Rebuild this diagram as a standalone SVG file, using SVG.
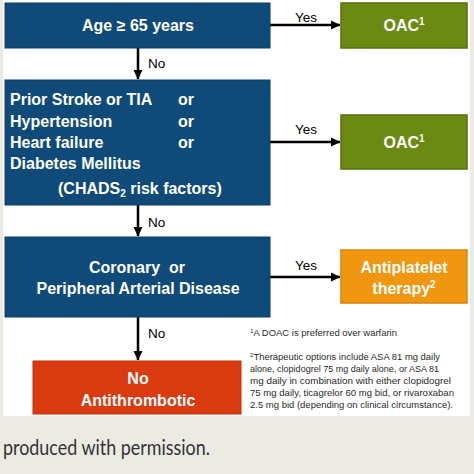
<svg xmlns="http://www.w3.org/2000/svg" width="474" height="474" viewBox="0 0 474 474">
<defs>
<style>
.bg{fill:#ecebe3}
.panel{fill:#ffffff}
.blue{fill:#0f4a78;stroke:#0b3d66;stroke-width:1}
.green{fill:#6a8a12;stroke:#56720c;stroke-width:1.5}
.orange{fill:#f0960f;stroke:#d98208;stroke-width:1.5}
.red{fill:#d93a0f;stroke:#c23008;stroke-width:1}
.bt{font-family:"Liberation Sans",Arial,sans-serif;font-weight:bold;font-size:16px;fill:#ffffff}
.lab{font-family:"Liberation Sans",Arial,sans-serif;font-size:13.5px;fill:#000000}
.fn{font-family:"Liberation Sans",Arial,sans-serif;font-size:9.2px;fill:#2a2a2a}
.cap{font-family:Lato,"Open Sans",sans-serif;font-size:21px;fill:#333333}
.conn{stroke:#000000;stroke-width:2.5;fill:none}
</style>
<marker id="ah" markerWidth="10" markerHeight="10" refX="9" refY="5" orient="auto" markerUnits="userSpaceOnUse">
<path d="M0,0.5 L9.5,5 L0,9.5 Z" fill="#000000"/>
</marker>
</defs>
<rect class="bg" x="0" y="0" width="474" height="474"/>
<rect class="panel" x="3" y="0" width="467" height="416"/>

<g id="connectors">
<line class="conn" x1="270" y1="25" x2="340" y2="25" marker-end="url(#ah)"/>
<line class="conn" x1="138" y1="48" x2="138" y2="79" marker-end="url(#ah)"/>
<line class="conn" x1="270" y1="142" x2="340" y2="142" marker-end="url(#ah)"/>
<line class="conn" x1="138" y1="205" x2="138" y2="236" marker-end="url(#ah)"/>
<line class="conn" x1="270" y1="277" x2="340" y2="277" marker-end="url(#ah)"/>
<line class="conn" x1="138" y1="317" x2="138" y2="360" marker-end="url(#ah)"/>
<text class="lab" x="306" y="22" text-anchor="middle">Yes</text>
<text class="lab" x="148" y="68">No</text>
<text class="lab" x="306" y="134" text-anchor="middle">Yes</text>
<text class="lab" x="148" y="227">No</text>
<text class="lab" x="306" y="270" text-anchor="middle">Yes</text>
<text class="lab" x="148" y="338">No</text>
</g>

<g id="age">
<rect class="blue" x="5" y="3" width="265" height="45"/>
<text class="bt" x="138" y="31" text-anchor="middle">Age ≥ 65 years</text>
</g>

<g id="oac1">
<rect class="green" x="341" y="3" width="126" height="45"/>
<text class="bt" x="404" y="31" text-anchor="middle">OAC<tspan font-size="10" dy="-6">1</tspan></text>
</g>

<g id="chads">
<rect class="blue" x="5" y="80" width="265" height="125"/>
<text class="bt" x="10" y="105">Prior Stroke or TIA</text>
<text class="bt" x="178" y="105">or</text>
<text class="bt" x="10" y="127">Hypertension</text>
<text class="bt" x="178" y="127">or</text>
<text class="bt" x="10" y="148">Heart failure</text>
<text class="bt" x="178" y="148">or</text>
<text class="bt" x="10" y="169">Diabetes Mellitus</text>
<text class="bt" x="58" y="194">(CHADS<tspan font-size="10" dy="3">2</tspan><tspan dy="-3"> risk factors)</tspan></text>
</g>

<g id="oac2">
<rect class="green" x="341" y="115" width="126" height="54"/>
<text class="bt" x="404" y="148" text-anchor="middle">OAC<tspan font-size="10" dy="-6">1</tspan></text>
</g>

<g id="cad">
<rect class="blue" x="5" y="237" width="265" height="80"/>
<text class="bt" x="137" y="273" text-anchor="middle">Coronary&#160; or</text>
<text class="bt" x="138" y="294" text-anchor="middle">Peripheral Arterial Disease</text>
</g>

<g id="antiplatelet">
<rect class="orange" x="341" y="250" width="126" height="53"/>
<text class="bt" x="404" y="273" text-anchor="middle">Antiplatelet</text>
<text class="bt" x="404" y="294" text-anchor="middle">therapy<tspan font-size="10" dy="-6">2</tspan></text>
</g>

<g id="none">
<rect class="red" x="33" y="361" width="208" height="53"/>
<text class="bt" x="138" y="384" text-anchor="middle">No</text>
<text class="bt" x="138" y="406" text-anchor="middle">Antithrombotic</text>
</g>

<g id="footnotes">
<text class="fn" x="250" y="336" textLength="147" lengthAdjust="spacingAndGlyphs"><tspan font-size="6" dy="-3">1</tspan><tspan dy="3">A DOAC is preferred over warfarin</tspan></text>
<text class="fn" x="250" y="360" textLength="190" lengthAdjust="spacingAndGlyphs"><tspan font-size="6" dy="-3">2</tspan><tspan dy="3">Therapeutic options include ASA 81 mg daily</tspan></text>
<text class="fn" x="250" y="372" textLength="189" lengthAdjust="spacingAndGlyphs">alone, clopidogrel 75 mg daily alone, or ASA 81</text>
<text class="fn" x="250" y="384" textLength="201" lengthAdjust="spacingAndGlyphs">mg daily in combination with either clopidogrel</text>
<text class="fn" x="250" y="396" textLength="204" lengthAdjust="spacingAndGlyphs">75 mg daily, ticagrelor 60 mg bid, or rivaroxaban</text>
<text class="fn" x="250" y="408" textLength="203" lengthAdjust="spacingAndGlyphs">2.5 mg bid (depending on clinical circumstance).</text>
</g>

<text class="cap" x="3" y="455" textLength="207" lengthAdjust="spacingAndGlyphs">produced with permission.</text>
</svg>
